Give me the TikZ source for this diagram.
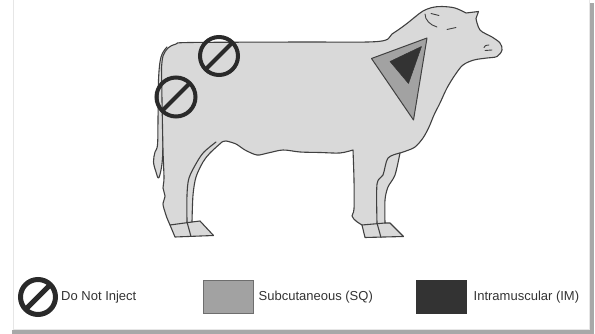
\documentclass[tikz,border=0pt]{standalone}
\usepackage{fontspec}
\setmainfont{Liberation Sans}
\definecolor{cowfill}{HTML}{D9D9D9}
\definecolor{outline}{HTML}{404040}
\definecolor{sqfill}{HTML}{A2A2A2}
\definecolor{sqborder}{HTML}{6E6E6E}
\definecolor{imfill}{HTML}{333333}
\definecolor{ringcol}{HTML}{2A2A2A}
\definecolor{shadowcol}{HTML}{A8A8A8}
\definecolor{framecol}{HTML}{E6E6E6}
\begin{document}
\begin{tikzpicture}[x=1pt,y=-1pt,
  cowline/.style={draw=outline, line width=1.1pt, line join=round, line cap=round},
  detail/.style={draw=outline, line width=0.9pt, line cap=round},
  noinject/.style={draw=ringcol, line width=4pt},
  legendtext/.style={anchor=west, inner sep=0pt, text=imfill, font=\fontsize{13}{15}\selectfont},
  legendbox/.style={rectangle, minimum width=50pt, minimum height=33pt, line width=1pt}]
\useasboundingbox (0,0) rectangle (595,334);

% page frame and drop shadow
\draw[framecol, line width=0.6pt] (13,-1) -- (13,329.5) -- (589,329.5) -- (589,-1);
\fill[shadowcol] (589.6,3) rectangle (594,334);
\fill[shadowcol] (12,329.8) rectangle (594,334);

% tail (drawn first so the body covers its inner half)
\path[cowline, fill=cowfill] plot[smooth, tension=0.6] coordinates
  {(167,47) (161,57) (158.5,80) (158,120) (157.5,145) (155,152) (153.5,162) (156,172) (158.5,178) (161,170) (162.5,158) (163,140)};

% body silhouette
\path[cowline, fill=cowfill]
  plot[smooth, tension=0.55] coordinates {(161.5,68) (163,56) (168,48) (176,44) (190,42.5) (300,42) (378,41.5) (392,34) (405,25) (415,17) (423,11) (432,7.5) (442,6.5) (455,8) (466,13)}
  -- (478.5,11.5) -- (476,18.5)
  -- plot[smooth, tension=0.55] coordinates {(476,18.5) (480,30) (492,37) (500,43) (502,50) (497,56.5) (487,58) (474,60) (463,65) (455,75) (447,88) (440,103) (434,115) (429,127) (423,138) (415,147) (406,151) (400,153)}
  -- plot[smooth] coordinates {(400,153) (395,175) (388,187) (385,200) (385,223)}
  -- (390,223) -- (403.5,236.5) -- (365,237.5) -- (362,225)
  -- plot[smooth] coordinates {(362,225) (356,221) (352,216) (354,209) (354,180) (353,150)}
  -- plot[smooth] coordinates {(353,150) (340,153) (320,152.5) (300,152) (283,150) (268,153) (257,155) (245,150) (236,144) (226,141) (222,142)}
  -- plot[smooth] coordinates {(222,142) (210,153) (203,162) (196,177) (193,195) (192,222)}
  -- (200,221) -- (213.5,235.5) -- (175,237) -- (170,225)
  -- plot[smooth] coordinates {(170,225) (167,218) (165,212) (163,204) (165,196) (163,188) (164,178) (163,150) (162,100) (161.5,68)}
  -- cycle;

% far hind leg and hooves
\draw[cowline] plot[smooth] coordinates {(216,142) (204,152) (197,162) (189,178) (187,195) (187,222)};
\draw[cowline] (187,222) -- (191,236.5);
\draw[cowline] (170,225) -- (192,222);
% far front leg and hooves
\draw[cowline] plot[smooth] coordinates {(400,153) (388,158) (383,175) (377,184) (377,223)};
\draw[cowline] (377,223) -- (381,237.5);
\draw[cowline] (362,225) -- (385,223);

% head details
\draw[detail] (425,14) .. controls (425,20) and (430,25) .. (437,27);
\draw[detail] (431,13.5) -- (439,15.5);
\draw[detail] (447,29.5) -- (456,27.5);
\draw[detail] (484,47.5) .. controls (485,45.5) .. (489,45);
\draw[detail] (485,50.5) -- (492,50);

% injection zone triangles on the neck
\path[draw=outline, line width=1pt, line join=round, fill=sqfill] (371.5,58.5) -- (427,38) -- (413.5,120) -- cycle;
\path[draw=imfill, line width=0.5pt, line join=round, fill=imfill] (390,61.5) -- (421.5,46.5) -- (408.5,83.5) -- cycle;

% no-injection marks on the hindquarter
\coordinate (ringA) at (219,56);
\coordinate (ringB) at (176,97);
\draw[noinject] (ringA) circle[radius=19];
\draw[noinject] ([shift={(13.4,-13.4)}]ringA) -- ([shift={(-13.4,13.4)}]ringA);
\draw[noinject] (ringB) circle[radius=19.5];
\draw[noinject] ([shift={(13.8,-13.8)}]ringB) -- ([shift={(-13.8,13.8)}]ringB);

% legend
\coordinate (lgring) at (38,297);
\draw[draw=ringcol, line width=5pt] (lgring) circle[radius=17.5];
\draw[draw=ringcol, line width=5pt] ([shift={(12.4,-12.4)}]lgring) -- ([shift={(-12.4,12.4)}]lgring);
\node[legendtext] (lgdont) at (61,297) {Do Not Inject};

\node[legendbox, draw=sqborder, fill=sqfill] (sqbox) at (228,297) {};
\node[legendtext] (lgsq) at (sqbox.east) [xshift=5pt] {Subcutaneous (SQ)};

\node[legendbox, draw=imfill, fill=imfill] (imbox) at (441,297) {};
\node[legendtext] (lgim) at (imbox.east) [xshift=7pt] {Intramuscular (IM)};
\end{tikzpicture}
\end{document}
